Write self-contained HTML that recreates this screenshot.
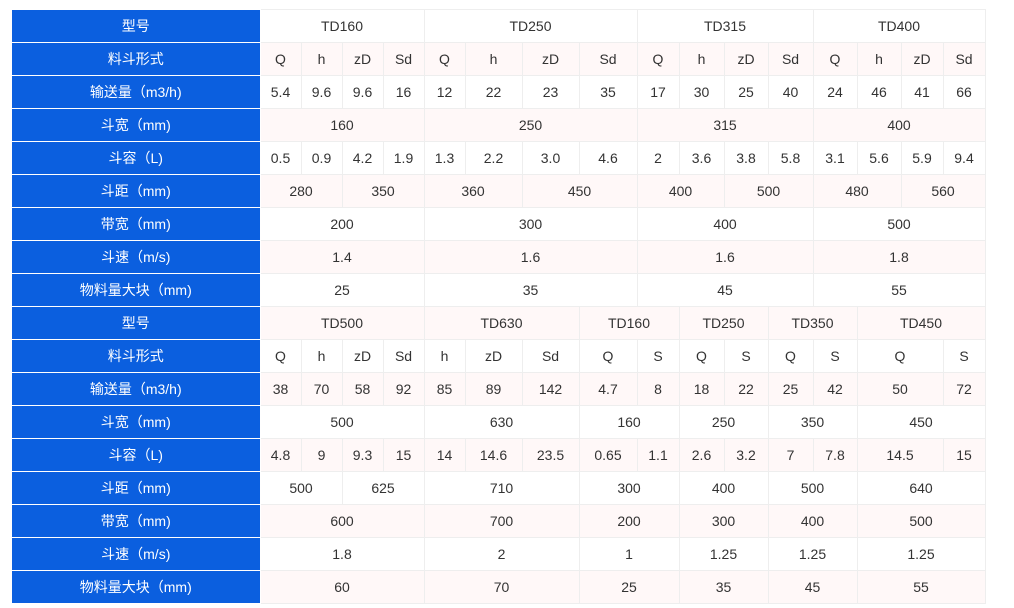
<!DOCTYPE html>
<html><head><meta charset="utf-8"><style>
html,body{margin:0;padding:0;background:#fff;width:1014px;height:608px;overflow:hidden}
table{position:absolute;left:12px;top:9px;border-collapse:collapse;table-layout:fixed;font-family:"Liberation Sans","Noto Sans CJK SC",sans-serif;font-size:14px;color:#333}
td{height:32px;padding:0;text-align:center;border:1px solid #eee;white-space:nowrap}
th{height:32px;padding:0;background:#0b5fdf;color:#fff;font-weight:normal;border:1px solid #fff;border-left:none;font-size:14px}
tr:nth-child(even) td{background:#fff8f8}
</style></head><body>
<table>
<colgroup><col style="width:248px"><col style="width:41px"><col style="width:41px"><col style="width:41px"><col style="width:41px"><col style="width:41px"><col style="width:57px"><col style="width:57px"><col style="width:58px"><col style="width:42px"><col style="width:45px"><col style="width:44px"><col style="width:45px"><col style="width:44px"><col style="width:44px"><col style="width:42px"><col style="width:42px"></colgroup>
<tr><th>型号</th><td colspan="4">TD160</td><td colspan="4">TD250</td><td colspan="4">TD315</td><td colspan="4">TD400</td></tr>
<tr><th>料斗形式</th><td>Q</td><td>h</td><td>zD</td><td>Sd</td><td>Q</td><td>h</td><td>zD</td><td>Sd</td><td>Q</td><td>h</td><td>zD</td><td>Sd</td><td>Q</td><td>h</td><td>zD</td><td>Sd</td></tr>
<tr><th>输送量（m3/h)</th><td>5.4</td><td>9.6</td><td>9.6</td><td>16</td><td>12</td><td>22</td><td>23</td><td>35</td><td>17</td><td>30</td><td>25</td><td>40</td><td>24</td><td>46</td><td>41</td><td>66</td></tr>
<tr><th>斗宽（mm)</th><td colspan="4">160</td><td colspan="4">250</td><td colspan="4">315</td><td colspan="4">400</td></tr>
<tr><th>斗容（L)</th><td>0.5</td><td>0.9</td><td>4.2</td><td>1.9</td><td>1.3</td><td>2.2</td><td>3.0</td><td>4.6</td><td>2</td><td>3.6</td><td>3.8</td><td>5.8</td><td>3.1</td><td>5.6</td><td>5.9</td><td>9.4</td></tr>
<tr><th>斗距（mm)</th><td colspan="2">280</td><td colspan="2">350</td><td colspan="2">360</td><td colspan="2">450</td><td colspan="2">400</td><td colspan="2">500</td><td colspan="2">480</td><td colspan="2">560</td></tr>
<tr><th>带宽（mm)</th><td colspan="4">200</td><td colspan="4">300</td><td colspan="4">400</td><td colspan="4">500</td></tr>
<tr><th>斗速（m/s)</th><td colspan="4">1.4</td><td colspan="4">1.6</td><td colspan="4">1.6</td><td colspan="4">1.8</td></tr>
<tr><th>物料量大块（mm)</th><td colspan="4">25</td><td colspan="4">35</td><td colspan="4">45</td><td colspan="4">55</td></tr>
<tr><th>型号</th><td colspan="4">TD500</td><td colspan="3">TD630</td><td colspan="2">TD160</td><td colspan="2">TD250</td><td colspan="2">TD350</td><td colspan="3">TD450</td></tr>
<tr><th>料斗形式</th><td>Q</td><td>h</td><td>zD</td><td>Sd</td><td>h</td><td>zD</td><td>Sd</td><td>Q</td><td>S</td><td>Q</td><td>S</td><td>Q</td><td>S</td><td colspan="2">Q</td><td>S</td></tr>
<tr><th>输送量（m3/h)</th><td>38</td><td>70</td><td>58</td><td>92</td><td>85</td><td>89</td><td>142</td><td>4.7</td><td>8</td><td>18</td><td>22</td><td>25</td><td>42</td><td colspan="2">50</td><td>72</td></tr>
<tr><th>斗宽（mm)</th><td colspan="4">500</td><td colspan="3">630</td><td colspan="2">160</td><td colspan="2">250</td><td colspan="2">350</td><td colspan="3">450</td></tr>
<tr><th>斗容（L)</th><td>4.8</td><td>9</td><td>9.3</td><td>15</td><td>14</td><td>14.6</td><td>23.5</td><td>0.65</td><td>1.1</td><td>2.6</td><td>3.2</td><td>7</td><td>7.8</td><td colspan="2">14.5</td><td>15</td></tr>
<tr><th>斗距（mm)</th><td colspan="2">500</td><td colspan="2">625</td><td colspan="3">710</td><td colspan="2">300</td><td colspan="2">400</td><td colspan="2">500</td><td colspan="3">640</td></tr>
<tr><th>带宽（mm)</th><td colspan="4">600</td><td colspan="3">700</td><td colspan="2">200</td><td colspan="2">300</td><td colspan="2">400</td><td colspan="3">500</td></tr>
<tr><th>斗速（m/s)</th><td colspan="4">1.8</td><td colspan="3">2</td><td colspan="2">1</td><td colspan="2">1.25</td><td colspan="2">1.25</td><td colspan="3">1.25</td></tr>
<tr><th>物料量大块（mm)</th><td colspan="4">60</td><td colspan="3">70</td><td colspan="2">25</td><td colspan="2">35</td><td colspan="2">45</td><td colspan="3">55</td></tr>
</table>
</body></html>
